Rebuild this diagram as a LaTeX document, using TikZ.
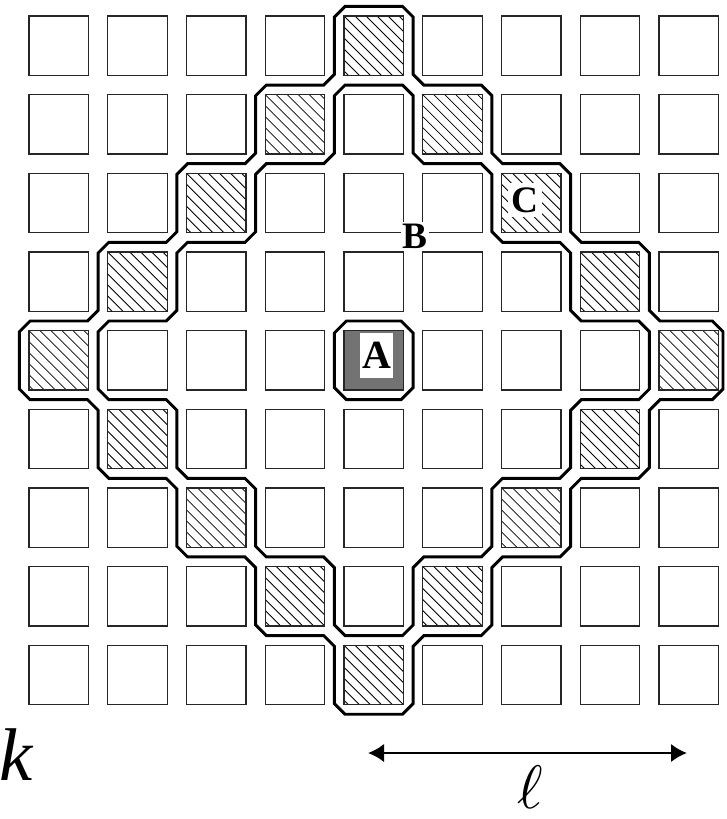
\documentclass[tikz,border=0pt]{standalone}
\usepackage{fontspec}
\setmainfont{Liberation Serif}
\usetikzlibrary{calc,arrows.meta}
\begin{document}
\begin{tikzpicture}[x=0.75pt,y=-0.75pt,
  cellbox/.style={draw=black!85,line width=1pt,inner sep=0pt,outer sep=0pt,minimum size=44.6pt,anchor=north west},
  hatchline/.style={line width=0.6pt,black},
  ring/.style={line width=2.2pt,black,line join=miter},
  lab/.style={font=\fontsize{28}{28}\selectfont\bfseries,fill=white,inner sep=1.5pt}]
\useasboundingbox (0,0) rectangle (727,819);

% grid coordinates
\foreach \i in {0,...,8}{
  \foreach \j in {0,...,8}{
    \pgfmathsetmacro\cx{29+78.75*\i}
    \pgfmathsetmacro\cy{16+78.65*\j}
    \coordinate (c\i-\j) at (\cx,\cy);
  }
}
\foreach \k in {0,...,9}{
  \foreach \l in {0,...,9}{
    \pgfmathsetmacro\gx{ifthenelse(\k==9,723,19.4+78.75*\k)}
    \pgfmathsetmacro\gy{6.4+78.65*\l}
    \coordinate (g\k-\l) at (\gx,\gy);
  }
}

% hatching
\foreach \i/\j in {4/0,3/1,5/1,2/2,6/2,1/3,7/3,0/4,8/4,1/5,7/5,2/6,6/6,3/7,5/7,4/8}{
  \begin{scope}
    \clip (c\i-\j) rectangle ($(c\i-\j)+(59.5,59.5)$);
    \foreach \t in {-66,-55,...,66}
      \draw[hatchline] ($(c\i-\j)+(\t,0)$) -- ++(60,60);
  \end{scope}
}

% A cell fill
\fill[black!55] (c4-4) rectangle ($(c4-4)+(59.5,59.5)$);

% cells
\foreach \i in {0,...,8}{
  \foreach \j in {0,...,8}{
    \node[cellbox] (s\i-\j) at (c\i-\j) {};
  }
}

% outer ring boundary
\foreach \k/\l [count=\n from 0] in {4/0,5/0,5/1,6/1,6/2,7/2,7/3,8/3,8/4,9/4,9/5,8/5,8/6,7/6,7/7,6/7,6/8,5/8,5/9,4/9,4/8,3/8,3/7,2/7,2/6,1/6,1/5,0/5,0/4,1/4,1/3,2/3,2/2,3/2,3/1,4/1}{
  \coordinate (o\n) at (g\k-\l);
}
\draw[ring] ($(o0)!8pt!(o35)$)
  \foreach \i [evaluate=\i as \p using {int(mod(\i+35,36))},
               evaluate=\i as \q using {int(mod(\i+1,36))}] in {0,...,35}
  { -- ($(o\i)!8pt!(o\p)$) -- ($(o\i)!8pt!(o\q)$) } -- cycle;

% inner ring boundary
\foreach \k/\l [count=\n from 0] in {4/1,5/1,5/2,6/2,6/3,7/3,7/4,8/4,8/5,7/5,7/6,6/6,6/7,5/7,5/8,4/8,4/7,3/7,3/6,2/6,2/5,1/5,1/4,2/4,2/3,3/3,3/2,4/2}{
  \coordinate (n\n) at (g\k-\l);
}
\draw[ring] ($(n0)!8pt!(n27)$)
  \foreach \i [evaluate=\i as \p using {int(mod(\i+27,28))},
               evaluate=\i as \q using {int(mod(\i+1,28))}] in {0,...,27}
  { -- ($(n\i)!8pt!(n\p)$) -- ($(n\i)!8pt!(n\q)$) } -- cycle;

% octagon around A
\draw[ring] ($(g4-4)!9pt!(g4-5)$) -- ($(g4-4)!9pt!(g5-4)$)
  -- ($(g5-4)!9pt!(g4-4)$) -- ($(g5-4)!9pt!(g5-5)$)
  -- ($(g5-5)!9pt!(g5-4)$) -- ($(g5-5)!9pt!(g4-5)$)
  -- ($(g4-5)!9pt!(g5-5)$) -- ($(g4-5)!9pt!(g4-4)$) -- cycle;

% labels
\node[lab,font=\fontsize{30}{30}\selectfont\bfseries,minimum width=20pt,minimum height=34pt] (A) at (376.5,355.5) {A};
\node[lab] (B) at (415,236) {B};
\node[lab,inner sep=3pt] (C) at (525,200) {C};

% k and ell
\node[font=\fontsize{56}{56}\selectfont\itshape,anchor=base west,inner sep=0pt] (kl) at (-1,780) {k};
\node[font=\fontsize{10}{10}\selectfont,scale=4.6,anchor=base,inner sep=0pt] (ell) at (530,808) {$\ell$};

% arrow
\coordinate (al) at (368,753);
\coordinate (ar) at (687,753);
\draw[{Latex[length=12pt,width=14pt]}-{Latex[length=12pt,width=14pt]},line width=2.2pt] (al) -- (ar);
\end{tikzpicture}
\end{document}
